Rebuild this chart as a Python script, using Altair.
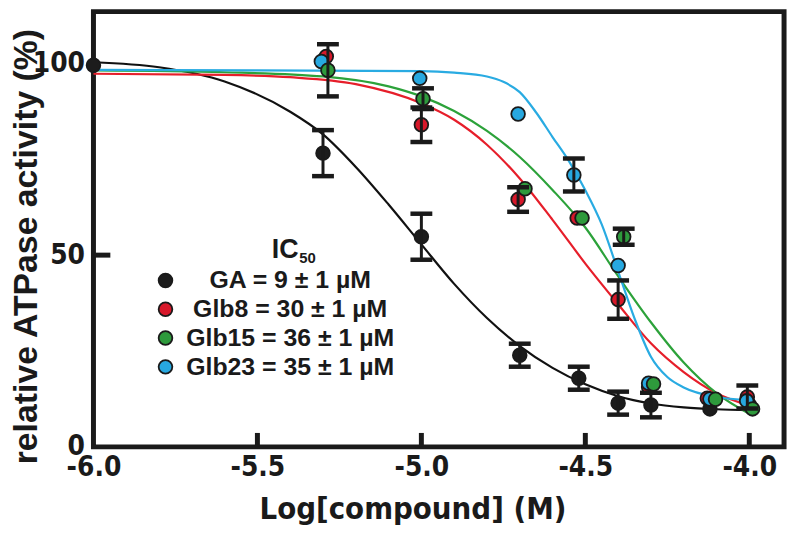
import altair as alt
import pandas as pd

# ---------------- data ----------------
compounds = ["GA", "Glb8", "Glb15", "Glb23"]
ic50_um = [9, 30, 36, 35]
ic50_sd = [1, 1, 1, 1]
point_colors = ["#1c1c1c", "#d7182a", "#2e9a3c", "#27a8e0"]
line_colors = ["#111111", "#e61e2a", "#2ca23a", "#29abe2"]

# measured points: log[compound] (M), activity (%), error (%)
ga_x = [-6.0, -5.3, -5.0, -4.7, -4.52, -4.4, -4.3, -4.12, -4.0]
ga_y = [99.5, 76.6, 54.8, 23.9, 17.9, 11.4, 10.9, 9.9, 11.0]
ga_err = [0, 6, 6, 3, 3, 3, 3.2, 0, 0]

glb8_x = [-5.29, -5.0, -4.705, -4.525, -4.4, -4.307, -4.128, -4.006]
glb8_y = [101.8, 84.0, 64.5, 59.7, 38.4, 15.6, 12.7, 13.0]
glb8_err = [0, 4.5, 3.2, 0, 5, 0, 0, 3]

glb23_x = [-5.305, -5.005, -4.705, -4.535, -4.40, -4.307, -4.12, -4.008]
glb23_y = [100.5, 96.1, 86.8, 70.9, 47.3, 16.6, 12.5, 12.0]
glb23_err = [0, 0, 0, 4.3, 0, 0, 0, 0]

glb15_x = [-5.285, -4.995, -4.684, -4.51, -4.383, -4.292, -4.103, -3.99]
glb15_y = [98.2, 90.8, 67.3, 59.7, 54.8, 16.4, 12.4, 9.9]
glb15_err = [6.8, 2.7, 0, 0, 2.1, 0, 0, 0]

# fitted curves
ga_fit_x = [-6.0, -5.8, -5.6, -5.4, -5.3, -5.2, -5.1, -5.0, -4.9, -4.8, -4.7, -4.6,
            -4.5, -4.4, -4.3, -4.2, -4.1, -4.0]
ga_fit_y = [100.3, 99.0, 95.3, 87.4, 81.5, 73.0, 63.2, 52.8, 42.5, 33.6, 26.3, 20.6,
            16.3, 13.2, 11.3, 10.3, 9.8, 9.6]

glb8_fit_x = [-6.0, -5.6, -5.4, -5.2, -5.0, -4.9, -4.8, -4.7, -4.6, -4.5, -4.4, -4.3,
              -4.2, -4.1, -4.0]
glb8_fit_y = [97.3, 97.0, 96.4, 94.6, 89.6, 85.3, 78.8, 70.0, 59.2, 47.8, 37.2, 27.0,
              19.5, 14.0, 10.8]

glb15_fit_x = [-6.0, -5.6, -5.3, -5.1, -5.0, -4.9, -4.8, -4.7, -4.6, -4.5, -4.4, -4.3,
               -4.2, -4.1, -4.0]
glb15_fit_y = [98.2, 97.7, 96.6, 94.0, 91.4, 87.6, 82.4, 75.6, 67.0, 57.2, 44.5, 32.5,
               22.0, 14.0, 8.6]

glb23_fit_x = [-6.0, -5.5, -5.0, -4.9, -4.8, -4.75, -4.7, -4.65, -4.6, -4.55, -4.5,
               -4.45, -4.4, -4.35, -4.3, -4.25, -4.2, -4.1, -4.0]
glb23_fit_y = [98.3, 98.2, 98.0, 97.6, 96.6, 95.2, 92.5, 87.2, 80.8, 74.5, 66.9,
               58.0, 45.8, 33.5, 23.5, 18.2, 15.5, 13.0, 12.2]

x_ticks = [-6.0, -5.5, -5.0, -4.5, -4.0]
y_ticks = [0, 50, 100]
inner_x_ticks = [-5.5, -5.0, -4.5, -4.0]
inner_y_ticks = [50]

# ---------------- tables ----------------
labels = [f"{c} = {v} \u00b1 {s} \u00b5M" for c, v, s in zip(compounds, ic50_um, ic50_sd)]
draw_rank = {"GA": 0, "Glb8": 1, "Glb23": 2, "Glb15": 3}

pts_src = {
    "GA": (ga_x, ga_y, ga_err),
    "Glb8": (glb8_x, glb8_y, glb8_err),
    "Glb23": (glb23_x, glb23_y, glb23_err),
    "Glb15": (glb15_x, glb15_y, glb15_err),
}
rows = []
for c, (xs, ys, es) in pts_src.items():
    lab = labels[compounds.index(c)]
    for x, y, e in zip(xs, ys, es):
        rows.append({"series": c, "label": lab, "x": x, "y": y, "err": e,
                     "draw": draw_rank[c]})
pts = pd.DataFrame(rows)

fit_src = {
    "GA": (ga_fit_x, ga_fit_y),
    "Glb8": (glb8_fit_x, glb8_fit_y),
    "Glb15": (glb15_fit_x, glb15_fit_y),
    "Glb23": (glb23_fit_x, glb23_fit_y),
}
frows = []
for c, (xs, ys) in fit_src.items():
    for x, y in zip(xs, ys):
        frows.append({"series": c, "x": x, "y": y})
fits = pd.DataFrame(frows)

xt = pd.DataFrame({"x": inner_x_ticks})
yt = pd.DataFrame({"y": inner_y_ticks})

# ---------------- encodings ----------------
W, H = 695, 438
NARROW = "DejaVu Sans Condensed, Liberation Sans Narrow, sans-serif"
WIDE = "Liberation Sans, Arial, DejaVu Sans, sans-serif"
INK = "#1a1a1a"

xscale = alt.Scale(domain=[-6.0, -3.894], nice=False, zero=False)
yscale = alt.Scale(domain=[0, 113.5], nice=False, zero=False)
xaxis = alt.Axis(values=x_ticks, ticks=False, domain=False, grid=False,
                 labelExpr="replace(format(datum.value, '.1f'), '\u2212', '-')",
                 labelFont=NARROW, labelFontSize=28, labelFontWeight="bold",
                 labelColor=INK, labelPadding=7, labelFlush=False,
                 title="Log[compound] (M)", titleFont=NARROW, titleFontSize=31,
                 titleFontWeight="bold", titleColor=INK,
                 titleX=321, titleY=72, titleBaseline="alphabetic",
                 titleAlign="center")
yaxis = alt.Axis(values=y_ticks, ticks=False, domain=False, grid=False, format="d",
                 labelFont=NARROW, labelFontSize=28, labelFontWeight="bold",
                 labelColor=INK, labelPadding=9, labelFlush=False,
                 title="relative ATPase activity (%)", titleFont=WIDE,
                 titleFontSize=34, titleFontWeight="bold", titleColor=INK,
                 titleX=-67, titleY=236, titleAngle=270, titleBaseline="middle",
                 titleAlign="center")


def X(field="x"):
    return alt.X(f"{field}:Q", scale=xscale, axis=xaxis, title="Log[compound] (M)")


def Y(field="y"):
    return alt.Y(f"{field}:Q", scale=yscale, axis=yaxis,
                 title="relative ATPase activity (%)")


# heavy box around the plot area
frame = alt.Chart(pd.DataFrame({"f": [0]})).mark_rect(
    fill="white", fillOpacity=0, stroke=INK, strokeWidth=5).encode(
    x=alt.value(0), x2=alt.value(W), y=alt.value(0), y2=alt.value(H))

lines = alt.Chart(fits).mark_line(interpolate="monotone", strokeWidth=2.2).encode(
    x=X(), y=Y(),
    stroke=alt.Stroke("series:N", scale=alt.Scale(domain=compounds, range=line_colors),
                      legend=None),
    detail="series:N",
)

points = alt.Chart(pts).mark_circle(size=190, opacity=1, stroke=INK,
                                    strokeWidth=1.8).encode(
    x=X(), y=Y(),
    fill=alt.Fill("label:N", scale=alt.Scale(domain=labels, range=point_colors),
                  legend=alt.Legend(title=None, orient="none", legendX=60, legendY=258,
                                    padding=0, symbolType="circle", symbolSize=190,
                                    symbolStrokeColor=INK, symbolStrokeWidth=1.8,
                                    labelFont=WIDE, labelFontSize=25,
                                    labelFontWeight="bold", labelColor=INK,
                                    labelAlign="center", labelOffset=113,
                                    labelLimit=400, rowPadding=3)),
    order=alt.Order("draw:Q"),
)

err_base = alt.Chart(pts).transform_filter("datum.err > 0").transform_calculate(
    lo="datum.y - datum.err", hi="datum.y + datum.err")

err_rules = err_base.mark_rule(color=INK, strokeWidth=3).encode(
    x=X(), y=Y("lo"), y2="hi:Q")

err_caps = err_base.transform_fold(["lo", "hi"], as_=["end", "v"]).mark_tick(
    orient="horizontal", color=INK, thickness=4.5, size=22, opacity=1).encode(
    x=X(), y=Y("v"))

# inward axis ticks
tick_x = alt.Chart(xt).mark_rule(color=INK, strokeWidth=5).encode(
    x=X(), y=alt.value(H), y2=alt.value(H - 14))
tick_y = alt.Chart(yt).mark_rule(color=INK, strokeWidth=5).encode(
    y=Y(), x=alt.value(0), x2=alt.value(17))

ic_main = alt.Chart(pd.DataFrame({"t": ["IC"]})).mark_text(
    font=WIDE, fontSize=27, fontWeight="bold", color=INK, align="center",
    baseline="middle").encode(text="t:N", x=alt.value(193), y=alt.value(240))
ic_sub = alt.Chart(pd.DataFrame({"t": ["50"]})).mark_text(
    font=WIDE, fontSize=15, fontWeight="bold", color=INK, align="left",
    baseline="middle").encode(text="t:N", x=alt.value(207), y=alt.value(248))

chart = alt.layer(frame, lines, points, err_rules, err_caps, tick_x, tick_y,
                  ic_main, ic_sub).properties(
    width=W, height=H, background="white",
    autosize=alt.AutoSizeParams(type="none"),
    padding={"left": 86, "top": 2, "right": 8, "bottom": 80},
).configure_view(stroke="transparent")

chart.save("out.html", embed_options={"renderer": "svg", "actions": False})
